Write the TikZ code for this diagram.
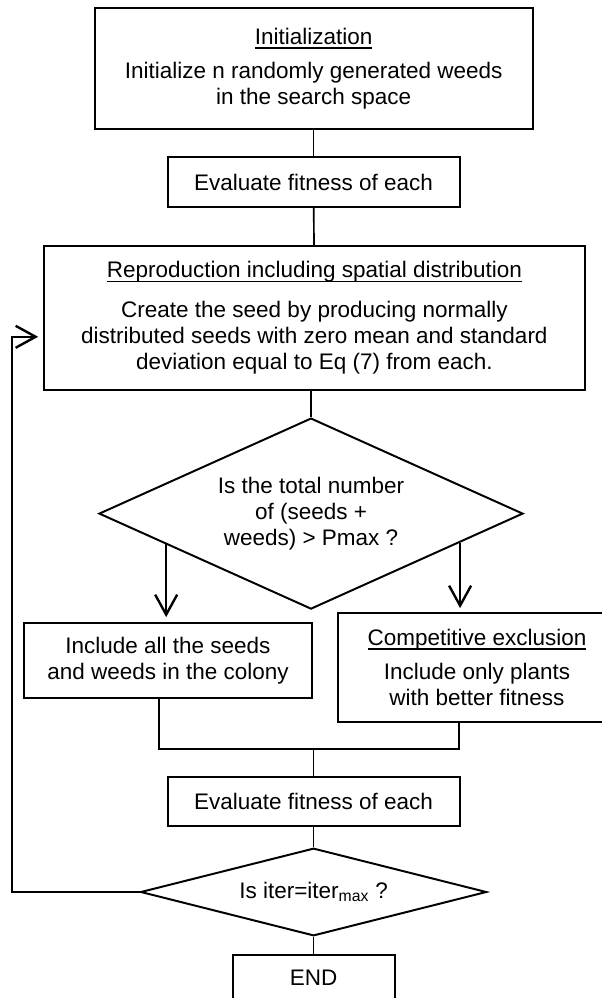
\documentclass[tikz,border=0pt]{standalone}
\usepackage{fontspec}
\setmainfont{Liberation Sans}
\usetikzlibrary{arrows.meta,shapes.geometric,calc}
\newcommand{\flowfont}{\fontsize{16}{18.5}\selectfont}
\newcommand{\boxtitle}[1]{\setbox0=\hbox{#1}\rlap{\rule[-3pt]{\wd0}{0.9pt}}\box0}
\tikzset{
    flowbox/.style={
        draw=black,
        fill=white,
        line width=1.4pt,
        inner sep=0pt,
        align=center,
        font=\flowfont
    },
    flowdecision/.style={
        diamond,
        aspect=2.2,
        draw=black,
        fill=white,
        line width=1.4pt,
        inner sep=0pt,
        align=center,
        font=\flowfont
    },
    flowline/.style={
        draw=black,
        line width=1.2pt
    },
    flowarrow/.style={
        -{Straight Barb[length=5mm,width=5.5mm]},
        draw=black,
        line width=1.7pt
    }
}

\begin{document}
\begin{tikzpicture}
    \useasboundingbox (0,0) rectangle (15.025,-24.95);

    \node[flowbox, minimum width=10.95cm, minimum height=3.025cm] (initbox) at (7.84,-1.72)
        {\boxtitle{Initialization}\\[6pt]Initialize n randomly generated weeds\\in the search space};
    \node[flowbox, minimum width=7.3cm, minimum height=1.25cm] (evalfirst) at (7.84,-4.55)
        {Evaluate fitness of each};
    \node[flowbox, minimum width=13.525cm, minimum height=3.6cm] (reproduce) at (7.86,-7.95)
        {\boxtitle{Reproduction including spatial distribution}\\[10pt]Create the seed by producing normally\\distributed seeds with zero mean and standard\\deviation equal to Eq (7) from each.};
    \node[flowdecision, minimum width=10.6cm, minimum height=4.775cm] (sizecheck) at (7.775,-12.84)
        {Is the total number\\of (seeds +\\weeds) > Pmax ?};
    \node[flowbox, minimum width=7.2cm, minimum height=1.875cm] (includeall) at (4.2,-16.51)
        {Include all the seeds\\and weeds in the colony};
    \node[flowbox, minimum width=6.95cm, minimum height=2.725cm] (competitive) at (11.925,-16.69)
        {\boxtitle{Competitive exclusion}\\[6pt]Include only plants\\with better fitness};
    \node[flowbox, minimum width=7.3cm, minimum height=1.225cm] (evalagain) at (7.84,-20.04)
        {Evaluate fitness of each};
    \node[flowdecision, minimum width=8.65cm, minimum height=2cm] (iterchk) at (7.84,-22.3)
        {Is iter=iter\textsubscript{max} ?};
    \node[flowbox, minimum width=4.05cm, minimum height=1.15cm] (endbox) at (7.84,-24.45)
        {END};

    \coordinate (sizeleft) at ($(sizecheck.west)!0.32!(sizecheck.south)$);
    \coordinate (sizeright) at ($(sizecheck.east)!0.30!(sizecheck.south)$);
    \coordinate (joinleft) at (3.975,-18.725);
    \coordinate (joinright) at (11.475,-18.725);
    \coordinate (loopcorner) at (0.3,-8.42);

    \draw[flowline] (initbox) -- (evalfirst);
    \draw[flowline] (evalfirst) -- (reproduce);
    \draw[flowline] (sizecheck.north |- reproduce.south) -- (sizecheck.north);
    \draw[flowarrow, shorten >=1.2mm] (sizeleft) -- (sizeleft |- includeall.north);
    \draw[flowarrow, shorten >=1mm] (sizeright) -- (sizeright |- competitive.north);
    \draw[flowline] (joinleft |- includeall.south) -- (joinleft) -- (joinright)
        -- (joinright |- competitive.south);
    \draw[flowline] (joinleft -| evalagain) -- (evalagain.north);
    \draw[flowline] (evalagain) -- (iterchk);
    \draw[flowline] (iterchk) -- (endbox);
    \draw[flowarrow, shorten >=1.2mm] (iterchk.west) -| (loopcorner)
        -- (loopcorner -| reproduce.west);
\end{tikzpicture}
\end{document}
